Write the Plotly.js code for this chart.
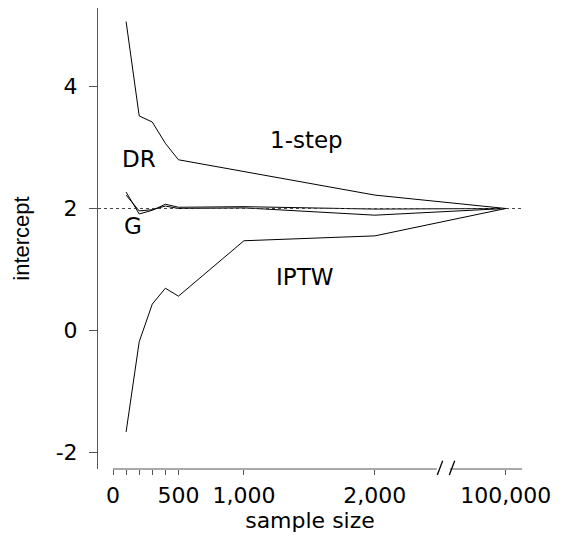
<!DOCTYPE html>
<html>
<head>
<meta charset="utf-8">
<script src="https://cdn.plot.ly/plotly-3.0.1.min.js"></script>
<style>html,body{margin:0;padding:0;background:#fff;}#chart{width:566px;height:538px;}</style>
</head>
<body>
<div id="chart"></div>
<script>
// sample sizes (100,000 sits after an axis break)
var sampleSizes = [100, 200, 300, 400, 500, 1000, 2000, 100000];
var oneStep = [5.07, 3.52, 3.42, 3.07, 2.80, 2.61, 2.22, 2.00];
var iptw    = [-1.67, -0.19, 0.43, 0.69, 0.56, 1.47, 1.55, 2.00];
var dr      = [2.27, 1.91, 1.97, 2.07, 2.02, 2.03, 1.99, 2.00];
var gcomp   = [2.22, 1.96, 1.98, 2.04, 2.00, 2.01, 1.89, 2.00];
var trueValue = 2;
var tickVals = [0, 100, 200, 300, 400, 500, 1000, 2000, 100000];
var tickText = ['0', '', '', '', '', '500', '1,000', '2,000', '100,000'];
var seriesLabels = ['1-step', 'DR', 'G', 'IPTW'];

// axis break: everything above 2,000 is drawn at position 3,000
function brk(v) { return v > 2000 ? 3000 : v; }
var xpos = sampleSizes.map(brk);

var font = 'DejaVu Sans, sans-serif';
function tr(y) {
  return {x: xpos, y: y, type: 'scatter', mode: 'lines',
          line: {color: '#000', width: 1}, hoverinfo: 'skip', showlegend: false};
}
var data = [tr(oneStep), tr(dr), tr(gcomp), tr(iptw)];

var labelPos = [[1477, 3.12], [196, 2.81], [150, 1.71], [1464, 0.87]];
var annotations = seriesLabels.map(function (t, i) {
  return {x: labelPos[i][0], y: labelPos[i][1], xref: 'x', yref: 'y', text: t,
          showarrow: false, font: {family: font, size: 23, color: '#000'}};
});

var axisCol = '#555';
var shapes = [
  {type: 'line', xref: 'paper', yref: 'y', x0: 0, x1: 1, y0: trueValue, y1: trueValue,
   line: {color: '#444', width: 1, dash: 'dot'}},
  {type: 'line', xref: 'x', yref: 'paper', x0: 0, x1: 2473, y0: 0, y1: 0,
   line: {color: axisCol, width: 1}},
  {type: 'line', xref: 'x', yref: 'paper', x0: 2573, x1: 3124, y0: 0, y1: 0,
   line: {color: axisCol, width: 1}},
  {type: 'line', xref: 'x', yref: 'paper', x0: 2477, x1: 2518, y0: -0.013, y1: 0.018,
   line: {color: '#000', width: 1.3}},
  {type: 'line', xref: 'x', yref: 'paper', x0: 2569, x1: 2610, y0: -0.013, y1: 0.018,
   line: {color: '#000', width: 1.3}}
];

var layout = {
  width: 566, height: 538,
  margin: {l: 98, r: 44, t: 8, b: 69},
  paper_bgcolor: '#fff', plot_bgcolor: '#fff',
  showlegend: false,
  xaxis: {
    range: [-114.6, 3124], showgrid: false, zeroline: false, showline: false,
    tickmode: 'array', tickvals: tickVals.map(brk), ticktext: tickText,
    ticks: 'outside', ticklen: 5, tickcolor: axisCol, tickwidth: 1,
    ticklabelstandoff: 2,
    tickfont: {family: font, size: 22, color: '#000'},
    title: {text: 'sample size', font: {family: font, size: 22, color: '#000'}, standoff: 2}
  },
  yaxis: {
    range: [-2.279, 5.293], showgrid: false, zeroline: false,
    showline: true, linecolor: axisCol, linewidth: 1,
    tickmode: 'array', tickvals: [-2, 0, 2, 4], ticktext: ['-2', '0', '2', '4'],
    ticks: 'outside', ticklen: 8, tickcolor: axisCol, tickwidth: 1,
    ticklabelstandoff: 7,
    tickfont: {family: font, size: 22, color: '#000'},
    title: {text: 'intercept', font: {family: 'Liberation Sans, Arial, sans-serif', size: 22, color: '#000'}, standoff: 19}
  },
  shapes: shapes,
  annotations: annotations
};
Plotly.newPlot('chart', data, layout, {staticPlot: true, displayModeBar: false});
</script>
</body>
</html>
